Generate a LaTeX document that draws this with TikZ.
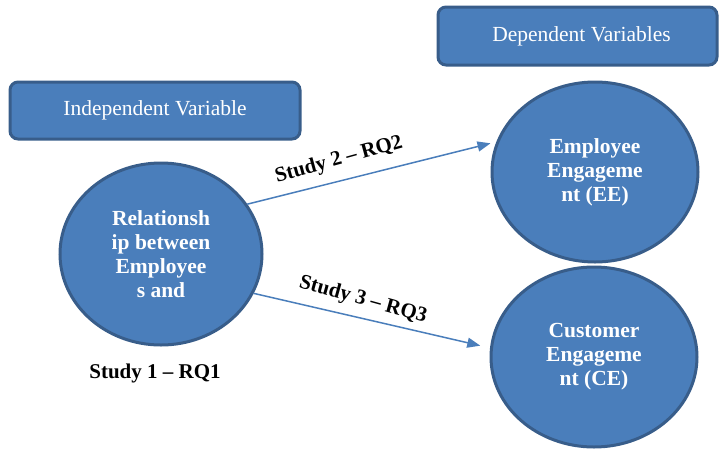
\documentclass[tikz,border=0pt]{standalone}
\usepackage{fontspec}
\setmainfont{Liberation Serif}
\usetikzlibrary{shapes.geometric,arrows.meta}
\definecolor{boxblue}{HTML}{4A7EBB}
\definecolor{edgeblue}{HTML}{385D8A}
\tikzset{
  labelbox/.style={draw=edgeblue, line width=3pt, fill=boxblue, rounded corners=8pt,
    text=white, font=\fontsize{21.5}{24}\selectfont, inner sep=0pt},
  varcircle/.style={ellipse, draw=edgeblue, line width=3pt, fill=boxblue,
    text=white, font=\bfseries\fontsize{21.5}{24}\selectfont, align=center, inner sep=0pt},
  link/.style={draw=boxblue, line width=1.5pt, -{Triangle[length=13pt,width=10pt]}},
  studylabel/.style={font=\bfseries\fontsize{21}{24}\selectfont, text=black, inner sep=0pt}
}
\begin{document}
\begin{tikzpicture}[x=1pt,y=-1pt]
\useasboundingbox (0,0) rectangle (721,448);
\node[labelbox, minimum width=290pt, minimum height=57pt] (ind) at (155,110.5) {Independent Variable};
\node[labelbox, minimum width=279pt, minimum height=58pt] (dep) at (577.5,36) {\hspace{8pt}Dependent Variables};
\node[varcircle, minimum width=202pt, minimum height=182pt] (rel) at (161,254)
  {Relationsh\\ip between\\Employee\\s and};
\node[varcircle, minimum width=206pt, minimum height=180pt] (ee) at (595,172)
  {Employee\\Engageme\\nt (EE)};
\node[varcircle, minimum width=206pt, minimum height=180pt] (ce) at (594,357)
  {Customer\\Engageme\\nt (CE)};
\draw[link, shorten >=6pt] (rel.30) -- (ee.163);
\draw[link, shorten >=10pt] (rel.-23) -- (ce.175);
\node[studylabel, rotate=15.5] (s2) at (339,160) {Study 2 – RQ2};
\node[studylabel, rotate=-15.5] (s3) at (363,300) {Study 3 – RQ3};
\node[studylabel] (s1) at (155,373) {Study 1 – RQ1};
\end{tikzpicture}
\end{document}
